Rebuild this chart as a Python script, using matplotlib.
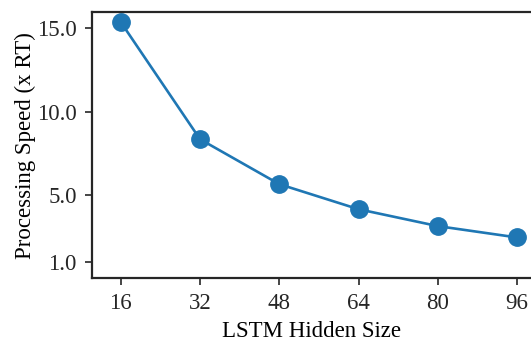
import matplotlib
matplotlib.use("Agg")
import matplotlib.pyplot as plt

# LSTM hidden sizes and measured processing speed (x real time)
hidden_sizes = [16, 32, 48, 64, 80, 96]
speed = [15.36, 8.35, 5.66, 4.16, 3.15, 2.47]
y_ticks = [1.0, 5.0, 10.0, 15.0]

plt.rcParams['font.family'] = ['Liberation Serif', 'DejaVu Serif']
plt.rcParams['font.size'] = 16.5

fig = plt.figure(figsize=(5.31, 3.45), dpi=100)
ax = fig.add_axes([0.1733, 0.194, 0.8267, 0.771])

ax.plot(hidden_sizes, speed, color='#1f77b4', linewidth=1.9,
        marker='o', markersize=12.5, clip_on=False)

ax.set_xlim(10.2, 98.8)
ax.set_ylim(0.04, 15.96)
ax.set_xticks(hidden_sizes)
ax.set_yticks(y_ticks)
ax.set_yticklabels(['%.1f' % t for t in y_ticks])

ax.set_xlabel('LSTM Hidden Size', labelpad=5)
ax.set_ylabel('Processing Speed (x RT)', labelpad=1)

for side in ['left', 'bottom', 'top']:
    ax.spines[side].set_linewidth(1.6)
    ax.spines[side].set_color('#262626')
ax.spines['right'].set_visible(False)
ax.tick_params(direction='out', length=5, width=1.2, color='#262626',
               labelcolor='#262626', pad=6)

fig.savefig('out.png', dpi=100)
